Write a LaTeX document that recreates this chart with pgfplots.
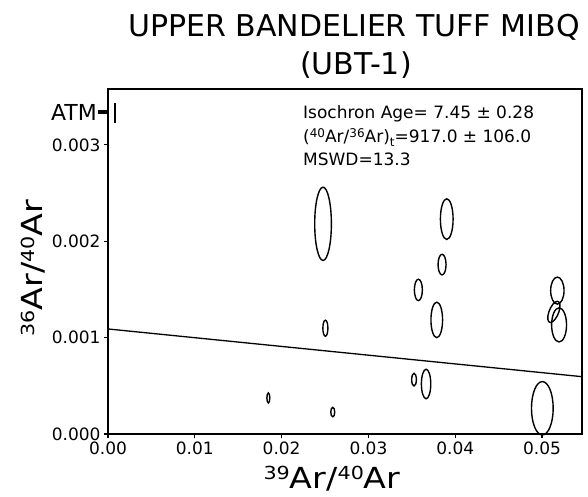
\documentclass[border=0pt]{standalone}
\usepackage{fontspec}
\setmainfont{DejaVu Sans}
\newfontfamily\widefont[FakeStretch=1.15]{DejaVu Sans}
\usepackage{pgfplots}
\pgfplotsset{compat=1.18}

% empty plot mark: the ellipses are drawn by the scatter marker code
\pgfdeclareplotmark{blank}{}
\newcommand\labsup[1]{\raisebox{8.5pt}{\fontsize{18}{18}\selectfont #1}}
\newcommand\boxsup[1]{\raisebox{5pt}{\fontsize{12}{12}\selectfont #1}}
\newcommand\boxsub[1]{\raisebox{-4pt}{\fontsize{12}{12}\selectfont #1}}

\begin{document}
\begin{tikzpicture}
\begin{axis}[
  scale only axis, width=474pt, height=345pt,
  xmin=0, xmax=0.0546, ymin=0, ymax=0.00358,
  axis line style={line width=2.6pt},
  xtick={0,0.01,0.02,0.03,0.04,0.05},
  ytick={0,0.001,0.002,0.003},
  xtick pos=left, ytick pos=left,
  tick align=outside,
  major tick length=4pt,
  tick style={line width=1.2pt, black},
  scaled ticks=false,
  xticklabel style={/pgf/number format/fixed, /pgf/number format/fixed zerofill,
    /pgf/number format/precision=2},
  yticklabel style={/pgf/number format/fixed, /pgf/number format/fixed zerofill,
    /pgf/number format/precision=3},
  /pgf/number format/assume math mode=true,
  tick label style={font=\fontsize{17}{17}\selectfont},
  extra y ticks={0.00334},
  extra y tick labels={ATM},
  extra y tick style={major tick length=10pt, tick style={line width=4pt},
    yticklabel style={font=\fontsize{22}{22}\selectfont, inner sep=1pt}},
]
% isochron regression line
\addplot[line width=1.3pt, black] coordinates {(0,0.00109) (0.0546,0.000595)};
% atmospheric reference bar
\addplot[line width=1.6pt, black] coordinates {(0.0008,0.00323) (0.0008,0.00343)};
% error ellipses: centre, x and y semi-axes, x shear of the vertical semi-axis
\addplot[
  scatter, only marks, mark=blank,
  visualization depends on=value \thisrow{rx}\as\ellrx,
  visualization depends on=value \thisrow{ry}\as\ellry,
  visualization depends on=value \thisrow{sx}\as\ellsx,
  scatter/@pre marker code/.code={%
    \begin{pgfscope}%
    \pgfpathellipse{\pgfpointorigin}%
      {\pgfplotspointaxisdirectionxy{\ellrx}{0}}%
      {\pgfplotspointaxisdirectionxy{\ellsx}{\ellry}}%
    \pgfsetlinewidth{1.4pt}\pgfsetstrokecolor{black}%
    \pgfusepath{stroke}%
    \end{pgfscope}},
  scatter/@post marker code/.code={},
] table {
x y rx ry sx
0.02477 0.002181 0.00096 0.000380 0
0.02504 0.001098 0.00029 0.000083 0
0.01847 0.000374 0.00017 0.000052 0
0.02589 0.000228 0.00023 0.000049 0
0.03902 0.002230 0.00073 0.000211 0
0.03848 0.001758 0.00046 0.000107 0
0.03575 0.001495 0.00046 0.000111 0
0.03787 0.001184 0.00067 0.000184 0
0.03525 0.000564 0.00027 0.000066 0
0.03664 0.000519 0.00054 0.000153 0
0.05003 0.000267 0.00125 0.000277 0
0.05176 0.001488 0.00077 0.000140 0
0.05136 0.001267 0.00058 0.000110 0.0004
0.05196 0.001132 0.00086 0.000177 0
};
\end{axis}
% title
\node[anchor=base, inner sep=0pt, font=\fontsize{30}{30}\selectfont]
  at ([xshift=246pt,yshift=52pt]current axis.north west) {UPPER BANDELIER TUFF MIBQ};
\node[anchor=base, inner sep=0pt, font=\fontsize{30}{30}\selectfont]
  at ([xshift=248pt,yshift=14pt]current axis.north west) {(UBT-1)};
% isochron results
\begin{scope}[every node/.style={anchor=base west, inner sep=0pt, font=\fontsize{17}{17}\selectfont}]
\node at ([xshift=195pt,yshift=-29pt]current axis.north west) {Isochron Age= 7.45 ± 0.28};
\node at ([xshift=195pt,yshift=-53pt]current axis.north west)
  {(\boxsup{40}Ar/\boxsup{36}Ar)\boxsub{t}=917.0 ± 106.0};
\node at ([xshift=195pt,yshift=-76pt]current axis.north west) {MSWD=13.3};
\end{scope}
% axis labels
\node[anchor=base, inner sep=0pt, font=\widefont\fontsize{29}{29}\selectfont]
  at ([xshift=224pt,yshift=-54pt]current axis.south west) {\labsup{39}Ar/\labsup{40}Ar};
\node[anchor=base, inner sep=0pt, rotate=90, font=\widefont\fontsize{29}{29}\selectfont]
  at ([xshift=-65pt,yshift=166pt]current axis.south west) {\labsup{36}Ar/\labsup{40}Ar};
% page extent
\path ([xshift=-108pt,yshift=-62pt]current axis.south west)
  rectangle ([xshift=6pt,yshift=89pt]current axis.north east);
\end{tikzpicture}
\end{document}
